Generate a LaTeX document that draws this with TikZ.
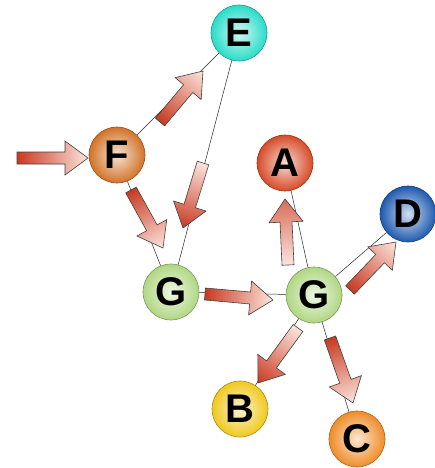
\documentclass[tikz,border=0pt]{standalone}
\usepackage{fontspec}
\setmainfont{Liberation Sans}
\usetikzlibrary{calc}
\definecolor{arrdark}{RGB}{200,58,34}
\definecolor{arrlight}{RGB}{252,228,220}
\definecolor{cE}{RGB}{40,220,200}
\definecolor{cF}{RGB}{210,115,40}
\definecolor{cG}{RGB}{175,215,130}
\definecolor{cA}{RGB}{215,75,40}
\definecolor{cD}{RGB}{30,90,175}
\definecolor{cB}{RGB}{240,200,30}
\definecolor{cC}{RGB}{240,140,40}
\tikzset{
  ball/.style={circle, minimum size=56pt, inner sep=0pt, draw=#1!70!black, line width=0.6pt,
    inner color=#1!20!white, outer color=#1,
    font=\fontsize{40}{40}\selectfont\bfseries},
  thinlink/.style={draw=black!85, line width=0.5pt},
  fatarrowstyle/.style={draw=black!75, line width=0.6pt, line join=miter}
}
\newcommand\fatarr[4]{%
  \path let \p1=($(#2)-(#1)$), \n1={atan2(\y1,\x1)}, \n2={veclen(\x1,\y1)} in
    \pgfextra{\xdef\gAng{\n1}\xdef\gLen{\n2}};
  \begin{scope}[transform canvas={shift={(#1)},rotate=\gAng}]
    \draw[fatarrowstyle, left color=#3, right color=#4]
      (0pt,-6pt) -- ({\gLen-23pt},-6pt) -- ({\gLen-23pt},-17pt)
      -- (\gLen,0pt) -- ({\gLen-23pt},17pt) -- ({\gLen-23pt},6pt)
      -- (0pt,6pt) -- cycle;
  \end{scope}}
\begin{document}
\begin{tikzpicture}[x=1pt,y=-1pt]
\useasboundingbox (0,0) rectangle (435,468);
% nodes
\node[ball=cE] (E) at (239,33) {E};
\node[ball=cF] (F) at (117,155) {F};
\node[ball=cG] (G1) at (171,292) {G};
\node[ball=cA] (A) at (285,163) {A};
\node[ball=cD] (D) at (408,214) {D};
\node[ball=cG] (G2) at (314,295) {G};
\node[ball=cB] (B) at (240,409) {B};
\node[ball=cC] (C) at (357,439) {C};
% thin connectors
\draw[thinlink] (F) -- (E);
\draw[thinlink] (E) -- (G1);
\draw[thinlink] (F) -- (G1);
\draw[thinlink] (G1) -- (G2);
\draw[thinlink] (G2) -- (A);
\draw[thinlink] (G2) -- (D);
\draw[thinlink] (G2) -- (B);
\draw[thinlink] (G2) -- (C);
% arrow end points
\coordinate (inT) at (17,158);  \coordinate (inH) at (88,158);
\coordinate (feT) at (160,122); \coordinate (feH) at (203,71);
\coordinate (egT) at (203,163); \coordinate (egH) at (183,228);
\coordinate (fgT) at (131,190); \coordinate (fgH) at (163,248);
\coordinate (ggT) at (205,294); \coordinate (ggH) at (273,300);
\coordinate (gaT) at (288,265); \coordinate (gaH) at (285,199);
\coordinate (gdT) at (350,290); \coordinate (gdH) at (396,242);
\coordinate (gbT) at (298,328); \coordinate (gbH) at (258,383);
\coordinate (gcT) at (330,338); \coordinate (gcH) at (353,403);
% fat arrows
\fatarr{inT}{inH}{arrdark}{arrlight}
\fatarr{feT}{feH}{arrdark}{arrlight}
\fatarr{egT}{egH}{arrlight}{arrdark}
\fatarr{fgT}{fgH}{arrdark}{arrlight}
\fatarr{ggT}{ggH}{arrdark}{arrlight}
\fatarr{gaT}{gaH}{arrlight}{arrdark!70!arrlight}
\fatarr{gdT}{gdH}{arrdark}{arrlight}
\fatarr{gbT}{gbH}{arrlight}{arrdark}
\fatarr{gcT}{gcH}{arrdark}{arrlight}
\end{tikzpicture}
\end{document}
